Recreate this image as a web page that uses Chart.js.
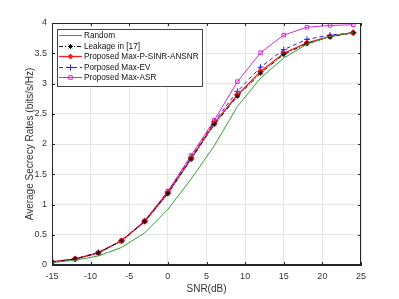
<!DOCTYPE html>
<html>
<head>
<meta charset="utf-8">
<script src="https://cdn.jsdelivr.net/npm/chart.js"></script>
<style>
  html, body { margin: 0; padding: 0; background: #fff; }
</style>
</head>
<body>
<canvas id="myGraph" width="399" height="299"></canvas>
<script>
const snr = [-15, -12, -9, -6, -3, 0, 3, 6, 9, 12, 15, 18, 21, 24];
const random = [0.04, 0.08, 0.15, 0.29, 0.53, 0.92, 1.42, 1.97, 2.62, 3.09, 3.42, 3.65, 3.78, 3.84];
const leakage = [0.05, 0.1, 0.2, 0.4, 0.72, 1.18, 1.75, 2.32, 2.79, 3.17, 3.48, 3.66, 3.77, 3.84];
const maxPSinr = [0.05, 0.1, 0.2, 0.4, 0.72, 1.19, 1.76, 2.34, 2.81, 3.2, 3.5, 3.67, 3.78, 3.84];
const maxEv = [0.05, 0.1, 0.21, 0.4, 0.73, 1.21, 1.78, 2.37, 2.87, 3.27, 3.56, 3.73, 3.8, 3.84];
const maxAsr = [0.05, 0.1, 0.2, 0.4, 0.73, 1.22, 1.81, 2.39, 3.03, 3.51, 3.8, 3.93, 3.96, 3.97];

const xTicks = [-15, -10, -5, 0, 5, 10, 15, 20, 25];
const yTicks = [0, 0.5, 1, 1.5, 2, 2.5, 3, 3.5, 4];

const FONT = "'Liberation Sans', Arial, sans-serif";
const toPoints = (ys) => ys.map((y, i) => ({ x: snr[i], y }));

// box + inward ticks like matlab, and legend inside the axes
const matlabBox = {
  id: "matlabBox",
  afterDraw(chart) {
    const { ctx, chartArea: a, scales } = chart;
    ctx.save();
    ctx.strokeStyle = "#262626";
    ctx.lineWidth = 1;
    ctx.strokeRect(a.left + 0.5, a.top + 0.5, a.right - a.left - 1, a.bottom - a.top - 1);
    ctx.beginPath();
    xTicks.forEach((v) => {
      const px = Math.round(scales.x.getPixelForValue(v)) + 0.5;
      ctx.moveTo(px, a.bottom); ctx.lineTo(px, a.bottom - 3);
      ctx.moveTo(px, a.top); ctx.lineTo(px, a.top + 3);
    });
    yTicks.forEach((v) => {
      const py = Math.round(scales.y.getPixelForValue(v)) + 0.5;
      ctx.moveTo(a.left, py); ctx.lineTo(a.left + 3, py);
      ctx.moveTo(a.right, py); ctx.lineTo(a.right - 3, py);
    });
    ctx.stroke();

    // legend
    const bx = a.left + 5, by = a.top + 6, bw = 145, bh = 57;
    ctx.fillStyle = "#fff";
    ctx.fillRect(bx, by, bw, bh);
    ctx.strokeStyle = "#444";
    ctx.strokeRect(bx + 0.5, by + 0.5, bw, bh);
    ctx.font = "8.2px " + FONT;
    ctx.textBaseline = "middle";
    chart.data.datasets.forEach((ds, i) => {
      const y = Math.round(by + 6 + i * 10.6) + 0.5;
      ctx.strokeStyle = ds.borderColor;
      ctx.lineWidth = ds.borderWidth;
      ctx.setLineDash(ds.borderDash || []);
      ctx.beginPath();
      ctx.moveTo(bx + 2, y); ctx.lineTo(bx + 25, y);
      ctx.stroke();
      ctx.setLineDash([]);
      if (ds.pointRadius > 0) {
        ctx.fillStyle = ds.pointBackgroundColor;
        ctx.strokeStyle = ds.pointBorderColor;
        ctx.lineWidth = 1;
        Chart.helpers.drawPoint(ctx, {
          pointStyle: ds.pointStyle, radius: ds.pointRadius, rotation: 0,
          borderWidth: 1,
        }, bx + 13.5, y);
      }
      ctx.fillStyle = "#111";
      ctx.fillText(ds.label, bx + 27, y + 0.5);
    });
    ctx.restore();
  },
};

const ctx = document.getElementById("myGraph");

new Chart(ctx, {
  type: "line",
  data: {
    datasets: [
      {
        label: "Random",
        data: toPoints(random),
        borderColor: "#33a033",
        borderWidth: 1,
        pointRadius: 0,
        pointStyle: false,
      },
      {
        label: "Leakage in [17]",
        data: toPoints(leakage),
        borderColor: "#111",
        borderWidth: 1,
        borderDash: [4, 2, 1, 2],
        pointStyle: "star",
        pointRadius: 2.5,
        pointBorderColor: "#111",
        pointBackgroundColor: "#111",
      },
      {
        label: "Proposed Max-P-SINR-ANSNR",
        data: toPoints(maxPSinr),
        borderColor: "#ff1a1a",
        borderWidth: 1.3,
        pointStyle: "rectRot",
        pointRadius: 2.5,
        pointBorderColor: "#ff1a1a",
        pointBackgroundColor: "#ff1a1a",
      },
      {
        label: "Porposed Max-EV",
        data: toPoints(maxEv),
        borderColor: "#2020ff",
        borderWidth: 1,
        borderDash: [4, 3],
        pointStyle: "cross",
        pointRadius: 3,
        pointBorderColor: "#2020ff",
        pointBackgroundColor: "#2020ff",
      },
      {
        label: "Proposed Max-ASR",
        data: toPoints(maxAsr),
        borderColor: "#d42ad4",
        borderWidth: 1,
        pointStyle: "rect",
        pointRadius: 2.5,
        pointBorderColor: "#d42ad4",
        pointBackgroundColor: "rgba(255,255,255,0)",
      },
    ],
  },
  options: {
    responsive: false,
    animation: false,
    layout: { padding: { left: 20, top: 23, right: 38, bottom: 0 } },
    plugins: {
      legend: { display: false },
      tooltip: { enabled: false },
    },
    scales: {
      x: {
        type: "linear",
        min: -15,
        max: 25,
        afterFit: (s) => { s.height = 34; },
        afterBuildTicks: (s) => { s.ticks = xTicks.map((v) => ({ value: v })); },
        grid: { color: "#e5e5e5", drawTicks: false },
        border: { color: "#262626" },
        ticks: { color: "#333", padding: 6, font: { size: 9, family: FONT } },
        title: {
          display: true,
          text: "SNR(dB)",
          color: "#333",
          padding: { top: 0, bottom: 4 },
          font: { size: 10, family: FONT },
        },
      },
      y: {
        min: 0,
        max: 4,
        afterFit: (s) => { s.width = 32; },
        afterBuildTicks: (s) => { s.ticks = yTicks.map((v) => ({ value: v })); },
        grid: { color: "#e5e5e5", drawTicks: false },
        border: { color: "#262626" },
        ticks: {
          color: "#333",
          padding: 5,
          font: { size: 9, family: FONT },
          callback: (v) => String(v),
        },
        title: {
          display: true,
          text: "Average Secrecy Rates (bits/s/Hz)",
          color: "#333",
          padding: { top: 4, bottom: 0 },
          font: { size: 10, family: FONT },
        },
      },
    },
  },
  plugins: [matlabBox],
});
</script>
</body>
</html>
